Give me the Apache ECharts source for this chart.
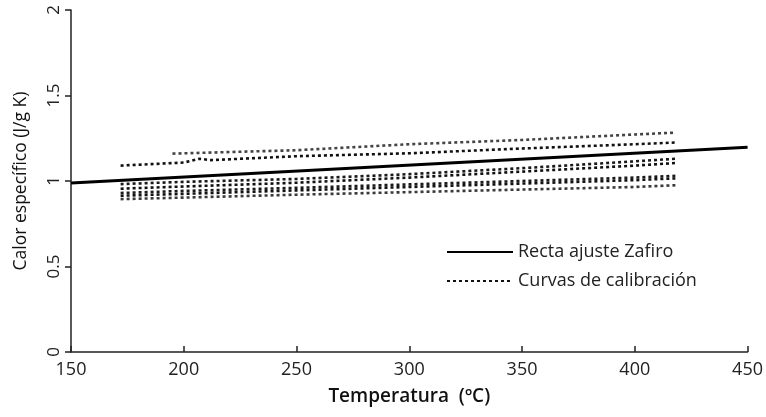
<!DOCTYPE html>
<html>
<head>
<meta charset="utf-8">
<script src="https://cdn.jsdelivr.net/npm/echarts@6/dist/echarts.min.js"></script>
<style>
  html, body { margin: 0; padding: 0; background: #fff; }
  #chart { width: 766px; height: 417px; }
</style>
</head>
<body>
<div id="chart"></div>
<script>
// axis ticks
var xTicks = [150, 200, 250, 300, 350, 400, 450];
var yTicks = [0, 0.5, 1, 1.5, 2];

// fitted sapphire line
var fitT = [150, 450];
var fitCp = [0.988, 1.198];

// calibration curves (temperature, specific heat)
var tTop = [195, 250, 300, 350, 400, 418];
var cpTop = [1.160, 1.180, 1.215, 1.240, 1.272, 1.283];

var tBump = [172, 200, 207, 212, 250, 300, 350, 400, 418];
var cpBump = [1.090, 1.108, 1.130, 1.122, 1.145, 1.162, 1.190, 1.215, 1.225];

var tCal = [172, 200, 250, 300, 350, 400, 418];
var cpCal4 = [0.982, 0.995, 1.012, 1.040, 1.075, 1.115, 1.130];
var cpCal5 = [0.955, 0.968, 0.990, 1.020, 1.055, 1.090, 1.105];
var cpCal6 = [0.930, 0.942, 0.960, 0.980, 1.000, 1.020, 1.030];
var cpCal7 = [0.914, 0.925, 0.945, 0.965, 0.985, 1.005, 1.015];
var cpCal8 = [0.894, 0.903, 0.920, 0.935, 0.950, 0.965, 0.975];

var curveSets = [
  [tBump, cpBump, '#111111'],
  [tTop, cpTop, '#444444'],
  [tCal, cpCal4, '#1a1a1a'],
  [tCal, cpCal5, '#111111'],
  [tCal, cpCal6, '#1a1a1a'],
  [tCal, cpCal7, '#111111'],
  [tCal, cpCal8, '#3a3a3a']
];

function pairs(xs, ys) {
  return xs.map(function (x, i) { return [x, ys[i]]; });
}

var FONT = "'Open Sans', 'Noto Sans', sans-serif";
var series = [];

curveSets.forEach(function (c) {
  series.push({
    name: 'Curvas de calibración',
    type: 'line',
    data: pairs(c[0], c[1]),
    showSymbol: false,
    symbol: 'none',
    color: c[2],
    lineStyle: { color: c[2], width: 2.6, type: [3, 3] },
    z: 2
  });
});

series.push({
  name: 'Recta ajuste Zafiro',
  type: 'line',
  data: pairs(fitT, fitCp),
  showSymbol: false,
  symbol: 'none',
  color: '#000',
  lineStyle: { color: '#000', width: 3, type: 'solid' },
  z: 3
});

var chart = echarts.init(document.getElementById('chart'));
chart.setOption({
  animation: false,
  backgroundColor: '#fff',
  grid: { left: 71, right: 11, top: 10, bottom: 65 },
  legend: {
    show: true,
    orient: 'vertical',
    left: 441,
    top: 238,
    itemWidth: 66,
    itemHeight: 14,
    itemGap: 11,
    itemStyle: { opacity: 0 },
    data: ['Recta ajuste Zafiro', 'Curvas de calibración'],
    textStyle: { fontFamily: FONT, fontSize: 18, color: '#222' }
  },
  xAxis: {
    type: 'value',
    min: xTicks[0],
    max: xTicks[xTicks.length - 1],
    interval: 50,
    name: 'Temperatura  (ºC)',
    nameLocation: 'middle',
    nameGap: 35,
    nameTextStyle: { fontFamily: FONT, fontSize: 19, fontWeight: 600, color: '#111' },
    axisLine: { onZero: false, lineStyle: { color: '#222', width: 1.5 } },
    axisTick: { inside: true, length: 6, lineStyle: { color: '#222', width: 1.5 } },
    axisLabel: { fontFamily: FONT, fontSize: 18, color: '#222', margin: 9 },
    splitLine: { show: false }
  },
  yAxis: {
    type: 'value',
    min: yTicks[0],
    max: yTicks[yTicks.length - 1],
    interval: 0.5,
    name: 'Calor específico (J/g K)',
    nameLocation: 'middle',
    nameGap: 41,
    nameTextStyle: { fontFamily: FONT, fontSize: 17.5, color: '#111' },
    axisLine: { show: true, onZero: false, lineStyle: { color: '#222', width: 1.5 } },
    axisTick: { show: true, inside: false, length: 6, lineStyle: { color: '#222', width: 1.5 } },
    axisLabel: { fontFamily: FONT, fontSize: 17, color: '#222', rotate: 90, margin: 8 },
    splitLine: { show: false }
  },
  series: series
});
</script>
</body>
</html>
